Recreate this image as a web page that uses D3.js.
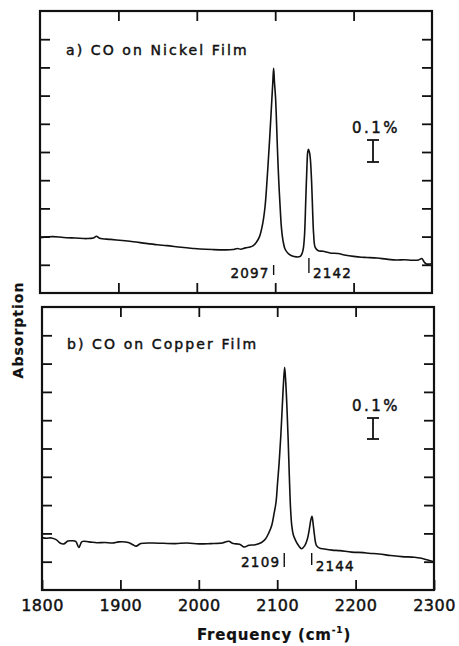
<!DOCTYPE html>
<html>
<head>
<meta charset="utf-8">
<script src="https://cdn.jsdelivr.net/npm/d3@7"></script>
<style>
html,body{margin:0;padding:0;background:#fff;}
svg{display:block;}
text{font-family:"DejaVu Sans",sans-serif;fill:#111;stroke:#111;stroke-width:0.45px;}
</style>
</head>
<body>
<svg id="chart" width="459" height="646"></svg>
<script>
// ---------- data ----------
const xTickValues = [1800, 1900, 2000, 2100, 2200, 2300];
const yTickValues = [1, 2, 3, 4, 5, 6, 7, 8, 9];
const panelTitles = ["a) CO on Nickel Film", "b) CO on Copper Film"];
const peakLabelsNi = [2097, 2142];
const peakLabelsCu = [2109, 2144];
const scaleBarText = "0.1%";
const xLabel = "Frequency (cm";
const yLabel = "Absorption";

const niFreq = [1800,1810,1817,1830,1845,1860,1868,1872,1876,1890,1905,1919,1935,1950,1962,1980,1995,2004,2020,2035,2046,2052,2056,2062,2068,2072,2076,2080,2084,2087,2089,2091,2093,2095,2097,2098,2099,2100.5,2102,2103,2104.5,2106,2108,2110,2112.5,2116,2121,2127,2132,2134.5,2136,2137.5,2139,2140.5,2141.5,2142.5,2144,2145,2146.5,2148,2149,2151,2155,2161,2170,2180,2190,2200,2210,2217,2230,2242,2255,2265,2275,2283,2287,2290,2293,2300];
const niAbs  = [1.96,1.99,2.00,1.97,1.95,1.93,1.95,2.01,1.94,1.90,1.86,1.82,1.76,1.71,1.68,1.62,1.58,1.56,1.54,1.53,1.54,1.58,1.55,1.60,1.63,1.68,1.80,2.00,2.45,3.05,3.75,4.60,5.50,6.50,7.50,7.97,7.50,6.90,5.80,5.00,4.00,3.20,2.30,1.85,1.56,1.42,1.32,1.28,1.30,1.42,1.60,2.10,3.30,4.50,5.00,5.10,4.95,4.70,3.90,2.70,2.10,1.62,1.50,1.48,1.42,1.40,1.34,1.30,1.27,1.26,1.24,1.20,1.17,1.18,1.16,1.17,1.22,1.10,1.03,1.04];

const cuFreq = [1800,1806,1812,1818,1823,1828,1833,1838,1843,1847,1851,1860,1870,1880,1890,1898,1910,1916,1920,1926,1940,1955,1970,1985,2000,2015,2030,2038,2044,2052,2058,2064,2072,2080,2085,2089,2093,2096,2098.5,2100.5,2102.5,2104.5,2106.5,2108,2109.5,2111,2112.5,2114,2115.5,2117,2118.5,2120.5,2124,2127,2131,2135,2138.5,2141,2142.7,2144.4,2146,2147.5,2150,2154,2160,2170,2180,2195,2210,2217,2230,2245,2259,2275,2284,2292,2300];
const cuAbs  = [1.85,1.83,1.84,1.78,1.66,1.63,1.73,1.74,1.72,1.50,1.71,1.70,1.67,1.68,1.66,1.70,1.68,1.60,1.55,1.64,1.66,1.65,1.64,1.66,1.63,1.64,1.66,1.72,1.64,1.62,1.52,1.58,1.60,1.68,1.80,2.00,2.28,2.70,3.10,3.80,4.50,5.40,6.50,7.30,7.87,7.30,6.40,5.30,4.00,2.90,2.30,1.95,1.72,1.58,1.46,1.56,1.80,2.15,2.45,2.60,2.30,1.95,1.58,1.48,1.45,1.41,1.39,1.34,1.32,1.30,1.27,1.22,1.18,1.16,1.12,1.06,1.00];

// ---------- layout ----------
const panels = [
  {top: 11, bottom: 293, left: 40, right: 432, freq: niFreq, abs: niAbs, title: panelTitles[0],
   titleX: 66, titleY: 55, barTextY: 133, barTop: 140, barBottom: 162,
   peaks: peakLabelsNi,
   marks: [{y1: -28, y2: -18, ty: -15, side: "left"}, {y1: -35, y2: -20, ty: -15, side: "right"}]},
  {top: 307, bottom: 590, left: 42, right: 434, freq: cuFreq, abs: cuAbs, title: panelTitles[1],
   titleX: 67, titleY: 349, barTextY: 411, barTop: 418, barBottom: 439,
   peaks: peakLabelsCu,
   marks: [{y1: -37, y2: -23, ty: -23, side: "left"}, {y1: -37, y2: -25, ty: -19, side: "right"}]}
];

const svg = d3.select("#chart");
const tickLen = 10;

panels.forEach((p, i) => {
  const x = d3.scaleLinear().domain([1800, 2300]).range([p.left, p.right]);
  const y = d3.scaleLinear().domain([0, 10]).range([p.bottom, p.top]);
  const g = svg.append("g");

  // inward ticks
  const innerX = xTickValues.slice(1, -1);
  g.append("g").attr("transform", `translate(0,${p.top})`)
    .call(d3.axisTop(x).tickValues(innerX).tickSize(-tickLen).tickFormat(""));
  const bottomAxis = d3.axisBottom(x).tickSize(-tickLen);
  if (i === panels.length - 1) {
    bottomAxis.tickValues(xTickValues).tickPadding(10).tickFormat(d3.format("d"));
  } else {
    bottomAxis.tickValues(innerX).tickFormat("");
  }
  const bg = g.append("g").attr("transform", `translate(0,${p.bottom})`).call(bottomAxis);
  g.append("g").attr("transform", `translate(${p.left},0)`)
    .call(d3.axisLeft(y).tickValues(yTickValues).tickSize(-tickLen).tickFormat(""));
  g.append("g").attr("transform", `translate(${p.right},0)`)
    .call(d3.axisRight(y).tickValues(yTickValues).tickSize(-tickLen).tickFormat(""));
  g.selectAll(".domain").remove();
  g.selectAll(".tick line").attr("stroke", "#111").attr("stroke-width", 1.8);
  bg.selectAll(".tick text").attr("font-size", 16).attr("letter-spacing", 0.5)
    .attr("fill", "#111").attr("font-family", "DejaVu Sans, sans-serif");

  // frame
  g.append("rect").attr("x", p.left).attr("y", p.top)
    .attr("width", p.right - p.left).attr("height", p.bottom - p.top)
    .attr("fill", "none").attr("stroke", "#111").attr("stroke-width", 2.2);

  // spectrum
  const pts = p.freq.map((f, k) => [f, p.abs[k]]);
  g.append("path").datum(pts)
    .attr("fill", "none").attr("stroke", "#111").attr("stroke-width", 1.6)
    .attr("stroke-linejoin", "round")
    .attr("d", d3.line().x(d => x(d[0])).y(d => y(d[1])).curve(d3.curveCatmullRom.alpha(0.5)));

  // title
  g.append("text").attr("x", p.titleX).attr("y", p.titleY)
    .attr("font-size", 14).attr("letter-spacing", 2.1).text(p.title);

  // peak markers
  p.peaks.forEach((f, k) => {
    const m = p.marks[k];
    const px = x(f + (i === 0 ? 1 : 0));
    g.append("line").attr("x1", px).attr("x2", px)
      .attr("y1", p.bottom + m.y1).attr("y2", p.bottom + m.y2)
      .attr("stroke", "#111").attr("stroke-width", 1.4);
    g.append("text")
      .attr("x", m.side === "left" ? px - 4 : px + 4)
      .attr("y", p.bottom + m.ty)
      .attr("text-anchor", m.side === "left" ? "end" : "start")
      .attr("font-size", 13.5).attr("letter-spacing", 1.2)
      .text(f);
  });

  // scale bar
  const bx = 373;
  g.append("text").attr("x", bx + 3).attr("y", p.barTextY).attr("text-anchor", "middle")
    .attr("font-size", 15).attr("letter-spacing", 2.5).text(scaleBarText);
  g.append("line").attr("x1", bx).attr("x2", bx).attr("y1", p.barTop).attr("y2", p.barBottom)
    .attr("stroke", "#111").attr("stroke-width", 1.8);
  [p.barTop, p.barBottom].forEach(yy => {
    g.append("line").attr("x1", bx - 6).attr("x2", bx + 6).attr("y1", yy).attr("y2", yy)
      .attr("stroke", "#111").attr("stroke-width", 1.8);
  });
});

// axis titles
const xt = svg.append("text").attr("x", 274).attr("y", 640).attr("text-anchor", "middle")
  .attr("font-size", 15).attr("font-weight", "bold").attr("letter-spacing", 0.8)
  .style("stroke-width", "0.2px");
xt.append("tspan").text(xLabel);
xt.append("tspan").attr("font-size", 9).attr("dy", -7).text("-1");
xt.append("tspan").attr("dy", 7).text(")");

svg.append("text").attr("transform", "translate(23,330) rotate(-90)")
  .attr("text-anchor", "middle").attr("font-size", 14).attr("font-weight", "bold")
  .attr("letter-spacing", 1).style("stroke-width", "0.2px").text(yLabel);
</script>
</body>
</html>
